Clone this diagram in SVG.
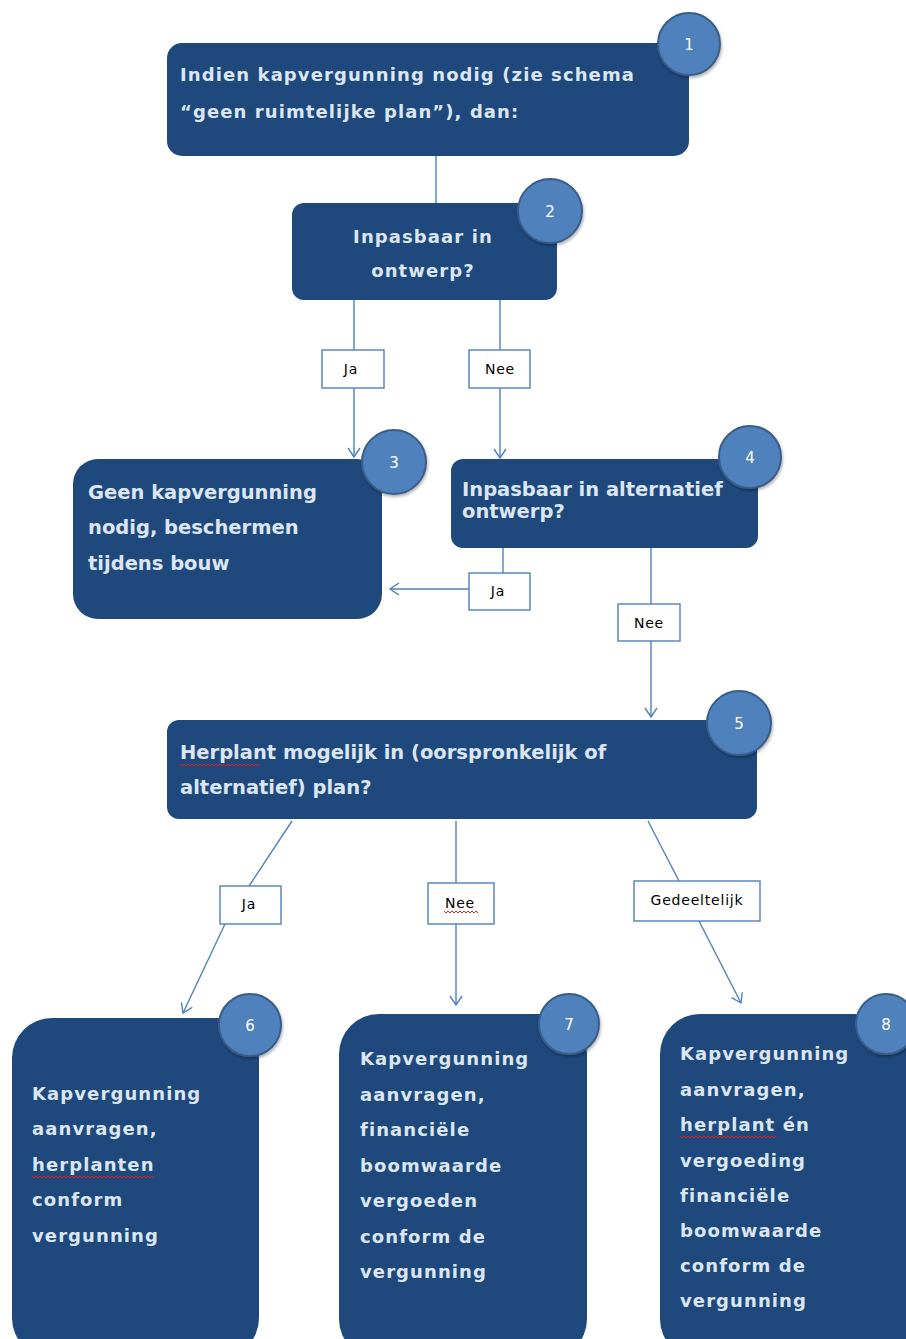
<svg xmlns="http://www.w3.org/2000/svg" width="906" height="1339" viewBox="0 0 906 1339">
<defs>
<style>
.box{fill:#1F497D;}
.num{fill:#4F81BD;stroke:#385D8A;stroke-width:2;}
.numt{font-family:"DejaVu Sans",sans-serif;font-size:15px;fill:#ffffff;text-anchor:middle;}
.t{font-family:"DejaVu Sans",sans-serif;font-weight:bold;fill:#DCE6F2;}
.ts{font-size:18px;letter-spacing:1.1px;}
.tn{font-size:19.5px;}
.c{fill:none;stroke:#4F81BD;stroke-width:1.4;}
.lb{fill:#ffffff;stroke:#4F81BD;stroke-width:1.4;}
.lt{font-family:"DejaVu Sans",sans-serif;font-size:14px;letter-spacing:0.8px;fill:#000000;text-anchor:middle;}
.sq{fill:none;stroke:#E02020;stroke-width:1;}
</style>
<marker id="arr" markerWidth="14" markerHeight="14" refX="10" refY="7" orient="auto" markerUnits="userSpaceOnUse">
<path d="M1,1 L10,7 L1,13" fill="none" stroke="#4F81BD" stroke-width="1.4"/>
</marker>
<filter id="sh" x="-30%" y="-30%" width="160%" height="160%">
<feDropShadow dx="1" dy="2" stdDeviation="1.5" flood-color="#000" flood-opacity="0.3"/>
</filter>
</defs>
<rect width="906" height="1339" fill="#ffffff"/>

<g id="connectors">
<line class="c" x1="436" y1="156" x2="436" y2="203"/>
<line class="c" x1="354" y1="300" x2="354" y2="350"/>
<line class="c" x1="354" y1="388" x2="354" y2="457" marker-end="url(#arr)"/>
<line class="c" x1="500" y1="300" x2="500" y2="350"/>
<line class="c" x1="500" y1="388" x2="500" y2="458" marker-end="url(#arr)"/>
<line class="c" x1="503" y1="548" x2="503" y2="573"/>
<line class="c" x1="469" y1="589" x2="390" y2="589" marker-end="url(#arr)"/>
<line class="c" x1="651" y1="548" x2="651" y2="604"/>
<line class="c" x1="651" y1="641" x2="651" y2="717" marker-end="url(#arr)"/>
<line class="c" x1="292" y1="821" x2="249" y2="886"/>
<line class="c" x1="225" y1="924" x2="183" y2="1013" marker-end="url(#arr)"/>
<line class="c" x1="456" y1="821" x2="456" y2="883"/>
<line class="c" x1="456" y1="924" x2="456" y2="1005" marker-end="url(#arr)"/>
<line class="c" x1="648" y1="821" x2="679" y2="881"/>
<line class="c" x1="699" y1="921" x2="741" y2="1003" marker-end="url(#arr)"/>

<rect class="lb" x="322" y="350" width="62" height="38"/>
<text class="lt" x="351" y="374">Ja</text>
<rect class="lb" x="469" y="350" width="61" height="38"/>
<text class="lt" x="500" y="374">Nee</text>
<rect class="lb" x="469" y="573" width="61" height="37"/>
<text class="lt" x="498" y="596">Ja</text>
<rect class="lb" x="618" y="604" width="62" height="37"/>
<text class="lt" x="649" y="628">Nee</text>
<rect class="lb" x="220" y="886" width="61" height="38"/>
<text class="lt" x="249" y="909">Ja</text>
<rect class="lb" x="428" y="883" width="66" height="41"/>
<text class="lt" x="460" y="908">Nee</text>
<path class="sq" d="M444,911 l2,2 l2,-2 l2,2 l2,-2 l2,2 l2,-2 l2,2 l2,-2 l2,2 l2,-2 l2,2 l2,-2 l2,2 l2,-2 l2,2 l2,-2 l2,2"/>
<rect class="lb" x="634" y="881" width="126" height="40"/>
<text class="lt" x="697" y="905">Gedeeltelijk</text>
</g>

<g id="node1">
<rect class="box" x="167" y="43" width="522" height="113" rx="15"/>
<text class="t ts" x="180" y="81">Indien kapvergunning nodig (zie schema</text>
<text class="t ts" x="180" y="118">“geen ruimtelijke plan”), dan:</text>
<circle class="num" cx="689" cy="44" r="31" filter="url(#sh)"/>
<text class="numt" x="689" y="50">1</text>
</g>

<g id="node2">
<rect class="box" x="292" y="203" width="265" height="97" rx="12"/>
<text class="t ts" x="423" y="243" text-anchor="middle">Inpasbaar in</text>
<text class="t ts" x="423" y="277" text-anchor="middle">ontwerp?</text>
<circle class="num" cx="550" cy="211" r="32" filter="url(#sh)"/>
<text class="numt" x="550" y="217">2</text>
</g>

<g id="node3">
<rect class="box" x="73" y="459" width="309" height="160" rx="25"/>
<text class="t tn" x="88" y="499">Geen kapvergunning</text>
<text class="t tn" x="88" y="534">nodig, beschermen</text>
<text class="t tn" x="88" y="570">tijdens bouw</text>
<circle class="num" cx="394" cy="462" r="32" filter="url(#sh)"/>
<text class="numt" x="394" y="468">3</text>
</g>

<g id="node4">
<rect class="box" x="451" y="459" width="307" height="89" rx="12"/>
<text class="t tn" x="462" y="496">Inpasbaar in alternatief</text>
<text class="t tn" x="462" y="518">ontwerp?</text>
<circle class="num" cx="750" cy="457" r="31" filter="url(#sh)"/>
<text class="numt" x="750" y="463">4</text>
</g>

<g id="node5">
<rect class="box" x="167" y="720" width="590" height="99" rx="12"/>
<text class="t tn" x="180" y="759">Herplant mogelijk in (oorspronkelijk of</text>
<text class="t tn" x="180" y="794">alternatief) plan?</text>
<path class="sq" d="M180,764 l2,2 l2,-2 l2,2 l2,-2 l2,2 l2,-2 l2,2 l2,-2 l2,2 l2,-2 l2,2 l2,-2 l2,2 l2,-2 l2,2 l2,-2 l2,2 l2,-2 l2,2 l2,-2 l2,2 l2,-2 l2,2 l2,-2 l2,2 l2,-2 l2,2 l2,-2 l2,2 l2,-2 l2,2 l2,-2 l2,2 l2,-2 l2,2 l2,-2 l2,2 l2,-2 l2,2 l2,-2"/>
<circle class="num" cx="739" cy="723" r="32" filter="url(#sh)"/>
<text class="numt" x="739" y="729">5</text>
</g>

<g id="node6">
<rect class="box" x="12" y="1018" width="247" height="340" rx="40"/>
<text class="t ts" x="32" y="1100">Kapvergunning</text>
<text class="t ts" x="32" y="1135">aanvragen,</text>
<text class="t ts" x="32" y="1171">herplanten</text>
<text class="t ts" x="32" y="1206">conform</text>
<text class="t ts" x="32" y="1242">vergunning</text>
<path class="sq" d="M32,1176 l2,2 l2,-2 l2,2 l2,-2 l2,2 l2,-2 l2,2 l2,-2 l2,2 l2,-2 l2,2 l2,-2 l2,2 l2,-2 l2,2 l2,-2 l2,2 l2,-2 l2,2 l2,-2 l2,2 l2,-2 l2,2 l2,-2 l2,2 l2,-2 l2,2 l2,-2 l2,2 l2,-2 l2,2 l2,-2 l2,2 l2,-2 l2,2 l2,-2 l2,2 l2,-2 l2,2 l2,-2 l2,2 l2,-2 l2,2 l2,-2 l2,2 l2,-2 l2,2 l2,-2 l2,2 l2,-2 l2,2 l2,-2 l2,2 l2,-2 l2,2 l2,-2 l2,2 l2,-2 l2,2 l2,-2 l2,2"/>
<circle class="num" cx="250" cy="1025" r="31" filter="url(#sh)"/>
<text class="numt" x="250" y="1031">6</text>
</g>

<g id="node7">
<rect class="box" x="339" y="1014" width="248" height="345" rx="40"/>
<text class="t ts" x="360" y="1065">Kapvergunning</text>
<text class="t ts" x="360" y="1101">aanvragen,</text>
<text class="t ts" x="360" y="1136">financiële</text>
<text class="t ts" x="360" y="1172">boomwaarde</text>
<text class="t ts" x="360" y="1207">vergoeden</text>
<text class="t ts" x="360" y="1243">conform de</text>
<text class="t ts" x="360" y="1278">vergunning</text>
<circle class="num" cx="569" cy="1024" r="30" filter="url(#sh)"/>
<text class="numt" x="569" y="1030">7</text>
</g>

<g id="node8">
<rect class="box" x="660" y="1014" width="266" height="345" rx="40"/>
<text class="t ts" x="680" y="1060">Kapvergunning</text>
<text class="t ts" x="680" y="1096">aanvragen,</text>
<text class="t ts" x="680" y="1131">herplant én</text>
<text class="t ts" x="680" y="1167">vergoeding</text>
<text class="t ts" x="680" y="1202">financiële</text>
<text class="t ts" x="680" y="1237">boomwaarde</text>
<text class="t ts" x="680" y="1272">conform de</text>
<text class="t ts" x="680" y="1307">vergunning</text>
<path class="sq" d="M680,1136 l2,2 l2,-2 l2,2 l2,-2 l2,2 l2,-2 l2,2 l2,-2 l2,2 l2,-2 l2,2 l2,-2 l2,2 l2,-2 l2,2 l2,-2 l2,2 l2,-2 l2,2 l2,-2 l2,2 l2,-2 l2,2 l2,-2 l2,2 l2,-2 l2,2 l2,-2 l2,2 l2,-2 l2,2 l2,-2 l2,2 l2,-2 l2,2 l2,-2 l2,2 l2,-2 l2,2 l2,-2 l2,2 l2,-2 l2,2 l2,-2 l2,2 l2,-2 l2,2 l2,-2"/>
<circle class="num" cx="886" cy="1024" r="30" filter="url(#sh)"/>
<text class="numt" x="886" y="1030">8</text>
</g>
</svg>
